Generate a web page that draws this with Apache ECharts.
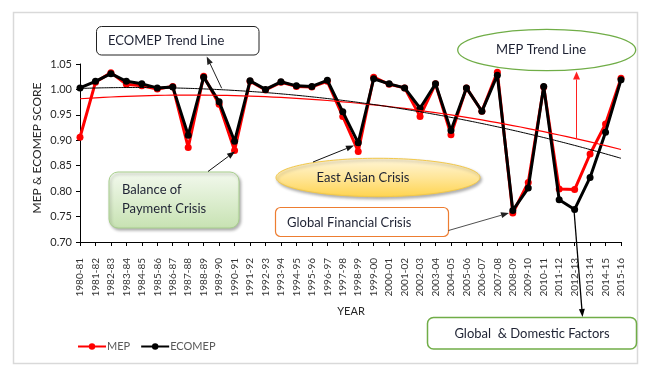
<!DOCTYPE html>
<html>
<head>
<meta charset="utf-8">
<script src="https://cdn.jsdelivr.net/npm/echarts@6/dist/echarts.min.js"></script>
<style>html,body{margin:0;padding:0;background:#fff;}#c{width:654px;height:374px;}</style>
</head>
<body>
<div id="c"></div>
<script>
var categories = ['1980-81','1981-82','1982-83','1983-84','1984-85','1985-86','1986-87','1987-88','1988-89','1989-90','1990-91','1991-92','1992-93','1993-94','1994-95','1995-96','1996-97','1997-98','1998-99','1999-00','2000-01','2001-02','2002-03','2003-04','2004-05','2005-06','2006-07','2007-08','2008-09','2009-10','2010-11','2011-12','2012-13','2013-14','2014-15','2015-16'];
var mep = [0.906,1.014,1.033,1.010,1.007,1.001,1.006,0.886,1.026,0.971,0.880,1.016,0.999,1.014,1.006,1.005,1.016,0.947,0.878,1.024,1.010,1.003,0.947,1.011,0.911,1.003,0.957,1.034,0.757,0.817,1.005,0.804,0.803,0.873,0.932,1.022];
var ecomep = [1.003,1.016,1.031,1.016,1.011,1.003,1.005,0.910,1.024,0.976,0.898,1.017,1.000,1.015,1.007,1.006,1.018,0.956,0.895,1.021,1.011,1.003,0.963,1.011,0.919,1.003,0.957,1.028,0.762,0.806,1.006,0.783,0.764,0.827,0.916,1.019];
var yTicks = ['0.70','0.75','0.80','0.85','0.90','0.95','1.00','1.05'];

// order-2 polynomial trendline (least squares), as in the original spreadsheet
function polyTrend(ys){
  var n=ys.length,S=[0,0,0,0,0],T=[0,0,0];
  for(var i=0;i<n;i++){var x=i+1,p=1;for(var k=0;k<5;k++){S[k]+=p;if(k<3)T[k]+=p*ys[i];p*=x;}}
  var A=[[S[0],S[1],S[2],T[0]],[S[1],S[2],S[3],T[1]],[S[2],S[3],S[4],T[2]]];
  for(var c=0;c<3;c++){for(var r=c+1;r<3;r++){var f=A[r][c]/A[c][c];for(var k2=c;k2<4;k2++)A[r][k2]-=f*A[c][k2];}}
  var b=[0,0,0];
  for(var r2=2;r2>=0;r2--){var s=A[r2][3];for(var k3=r2+1;k3<3;k3++)s-=A[r2][k3]*b[k3];b[r2]=s/A[r2][r2];}
  return ys.map(function(_,i){var x=i+1;return b[0]+b[1]*x+b[2]*x*x;});
}
var mepTrend = polyTrend(mep);
var ecoTrend = polyTrend(ecomep);

var FONT = 'Lato, "Open Sans", sans-serif';
var TXT = '#1e2233';

function arrow(x1,y1,x2,y2,color,w,hl,hw){
  var dx=x2-x1,dy=y2-y1,L=Math.sqrt(dx*dx+dy*dy),ux=dx/L,uy=dy/L;
  var bx=x2-ux*hl,by=y2-uy*hl,px=-uy*hw/2,py=ux*hw/2;
  return [
    {type:'line',shape:{x1:x1,y1:y1,x2:bx,y2:by},style:{stroke:color,lineWidth:w},z:50},
    {type:'polygon',shape:{points:[[x2,y2],[bx+px,by+py],[bx-px,by-py]]},style:{fill:color},z:50}
  ];
}

var graphics = [
  {type:'rect',shape:{x:13.5,y:12.5,width:624,height:351},style:{fill:'none',stroke:'#d9d9d9',lineWidth:1.5},z:0},
  // ECOMEP trend label
  {type:'rect',shape:{x:96.5,y:26.5,width:162.5,height:28.5,r:5},style:{fill:'#fff',stroke:'#222',lineWidth:1},z:40},
  {type:'text',x:108,y:41,style:{text:'ECOMEP Trend Line',font:'13px '+FONT,fill:TXT,verticalAlign:'middle'},z:41},
  // MEP trend label
  {type:'ellipse',shape:{cx:546.7,cy:50,rx:89,ry:20.7},style:{fill:'#fff',stroke:'#70ad47',lineWidth:1.3},z:40},
  {type:'text',x:541,y:49.5,style:{text:'MEP Trend Line',font:'13px '+FONT,fill:TXT,align:'center',verticalAlign:'middle'},z:41},
  // Balance of payment
  {type:'rect',shape:{x:109,y:172,width:130,height:56,r:9},style:{fill:{type:'linear',x:0,y:0,x2:0,y2:1,colorStops:[{offset:0,color:'#f3f9ee'},{offset:1,color:'#c7e2b2'}]},stroke:'#a9d08e',lineWidth:1,shadowBlur:3,shadowOffsetX:1.5,shadowOffsetY:2,shadowColor:'rgba(0,0,0,0.3)'},z:40},
  {type:'text',x:122,y:190,style:{text:'Balance of',font:'13px '+FONT,fill:TXT,verticalAlign:'middle'},z:41},
  {type:'text',x:122,y:208.5,style:{text:'Payment Crisis',font:'13px '+FONT,fill:TXT,verticalAlign:'middle'},z:41},
  // East Asian Crisis
  {type:'ellipse',shape:{cx:378,cy:177.5,rx:102,ry:19.2},style:{fill:{type:'linear',x:0,y:0,x2:0,y2:1,colorStops:[{offset:0,color:'#fff6da'},{offset:0.5,color:'#ffe699'},{offset:1,color:'#ffd44f'}]},stroke:'#f2c84b',lineWidth:1,shadowBlur:3,shadowOffsetX:1.5,shadowOffsetY:2,shadowColor:'rgba(0,0,0,0.3)'},z:40},
  {type:'text',x:363,y:178,style:{text:'East Asian Crisis',font:'13px '+FONT,fill:TXT,align:'center',verticalAlign:'middle'},z:41},
  // Global Financial Crisis
  {type:'rect',shape:{x:275.5,y:207.5,width:173,height:29,r:5},style:{fill:'#fff',stroke:'#ed7d31',lineWidth:1.2},z:40},
  {type:'text',x:287,y:222.5,style:{text:'Global Financial Crisis',font:'13px '+FONT,fill:TXT,verticalAlign:'middle'},z:41},
  // Global & Domestic
  {type:'rect',shape:{x:427.5,y:317.5,width:209,height:31.5,r:6},style:{fill:'#fff',stroke:'#70ad47',lineWidth:1.5},z:40},
  {type:'text',x:532,y:333.5,style:{text:'Global  & Domestic Factors',font:'13px '+FONT,fill:TXT,align:'center',verticalAlign:'middle'},z:41},
  // axis names
  {type:'text',x:37,y:148,rotation:Math.PI/2,style:{text:'MEP & ECOMEP SCORE',font:'12px '+FONT,fill:'#262626',align:'center',verticalAlign:'middle'},z:41},
  {type:'text',x:351,y:311,style:{text:'YEAR',font:'11px '+FONT,fill:'#262626',align:'center',verticalAlign:'middle'},z:41}
];
graphics = graphics
  .concat(arrow(221.7,88.3,206.7,56.5,'#222',1,8,6))
  .concat(arrow(576.5,138,576.5,71.5,'#ff2020',1,8,7))
  .concat(arrow(208,171.5,235,151.5,'#111',1,8,6))
  .concat(arrow(313,162,354,145.5,'#111',1,8,6))
  .concat(arrow(448.5,230.5,509,213,'#222',0.8,8,6))
  .concat(arrow(574,210,582.5,317,'#000',1.3,8,6));

var chart = echarts.init(document.getElementById('c'), null, {renderer:'canvas'});
chart.setOption({
  animation:false,
  backgroundColor:'#fff',
  grid:{left:80,right:33,top:64,bottom:132},
  legend:{
    left:72, top:336, itemWidth:28, itemHeight:8, itemGap:10,
    textStyle:{fontFamily:FONT,fontSize:11,color:'#595959',padding:[0,0,0,-4]},
    data:['MEP','ECOMEP']
  },
  xAxis:{
    type:'category', data:categories, boundaryGap:false,
    axisLine:{lineStyle:{color:'#000',width:1}},
    axisTick:{show:true,length:4,interval:0,lineStyle:{color:'#000'}},
    axisLabel:{interval:0,rotate:90,margin:16,fontFamily:FONT,fontSize:10,color:'#333'},
    splitLine:{show:false}
  },
  yAxis:{
    type:'value', min:0.70, max:1.05, interval:0.05,
    axisLine:{show:true,lineStyle:{color:'#000',width:1}},
    axisTick:{show:true,length:4,lineStyle:{color:'#000'}},
    axisLabel:{margin:8,fontFamily:FONT,fontSize:11,color:'#262626',formatter:function(v){var s=v.toFixed(2);return yTicks.indexOf(s)>=0?s:'';}},
    splitLine:{show:false}
  },
  series:[
    {name:'MEP',type:'line',data:mep,symbol:'circle',symbolSize:7,lineStyle:{color:'#ff0000',width:3},itemStyle:{color:'#ff0000'},z:3},
    {name:'ECOMEP',type:'line',data:ecomep,symbol:'circle',symbolSize:7,lineStyle:{color:'#000000',width:3},itemStyle:{color:'#000000'},z:4},
    {name:'MEP trend',type:'line',data:mepTrend,symbol:'none',smooth:true,lineStyle:{color:'#ff0000',width:1.2},z:5,silent:true},
    {name:'ECOMEP trend',type:'line',data:ecoTrend,symbol:'none',smooth:true,lineStyle:{color:'#000000',width:1},z:5,silent:true}
  ],
  graphic:graphics
});
</script>
</body>
</html>
